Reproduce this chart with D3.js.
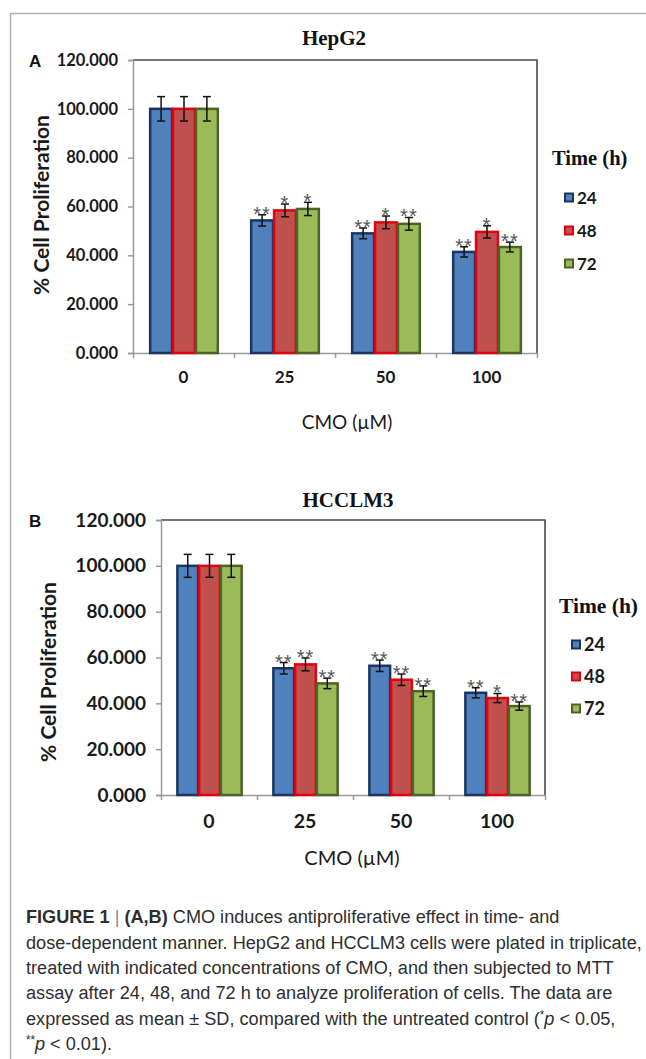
<!DOCTYPE html>
<html>
<head>
<meta charset="utf-8">
<script src="https://cdn.jsdelivr.net/npm/d3@7"></script>
<style>
  body { margin: 0; background: #fff; }
  svg { display: block; }
</style>
</head>
<body>
<div id="chart"></div>
<script>
// categories
var doses = ["0", "25", "50", "100"];
var times = ["24", "48", "72"];
var yTicks = [0, 20, 40, 60, 80, 100, 120];

// HepG2 means / SD per dose, per time (24, 48, 72 h)
var hepMeans = [[100, 100, 100], [54.3, 58.4, 59.0], [49.0, 53.5, 52.9], [41.4, 49.6, 43.4]];
var hepErr   = [[5, 5, 5], [2.3, 2.6, 2.7], [2.2, 2.6, 2.6], [2.1, 2.5, 2.0]];
var hepSig   = [["", "", ""], ["**", "*", "*"], ["**", "*", "**"], ["**", "*", "**"]];

// HCCLM3
var hccMeans = [[100, 100, 100], [55.3, 57.0, 48.7], [56.4, 50.3, 45.3], [44.6, 42.3, 38.8]];
var hccErr   = [[5, 5, 5], [2.5, 2.8, 2.3], [2.5, 2.5, 2.3], [2.2, 2.0, 1.8]];
var hccSig   = [["", "", ""], ["**", "**", "**"], ["**", "**", "**"], ["**", "*", "**"]];

var fills   = ["#4f81bd", "#c0504d", "#9bbb59"];
var strokes = ["#1b3560", "#e3000f", "#4e6228"];

var W = 646, H = 1059;
var svg = d3.select("#chart").append("svg")
    .attr("width", W)
    .attr("height", H);

// outer frame (top + left)
svg.append("line").attr("x1", 10).attr("x2", W).attr("y1", 13.5).attr("y2", 13.5)
    .attr("stroke", "#b0b0b0").attr("stroke-width", 1.5);
svg.append("line").attr("x1", 10.5).attr("x2", 10.5).attr("y1", 13).attr("y2", H)
    .attr("stroke", "#b0b0b0").attr("stroke-width", 1.5);

function drawPanel(p) {
    var x0 = d3.scaleBand()
        .domain(doses)
        .range([p.left, p.right])
        .paddingInner(0.32)
        .paddingOuter(0.16);
    var x1 = d3.scaleBand()
        .domain(times)
        .range([0, x0.bandwidth()]);
    var y = d3.scaleLinear()
        .domain([0, 120])
        .range([p.bottom, p.top]);

    var g = svg.append("g");

    // plot border (top + right)
    g.append("path")
        .attr("d", "M" + p.left + "," + p.top + "H" + p.right + "V" + p.bottom)
        .attr("fill", "none")
        .attr("stroke", "#4a4a4a")
        .attr("stroke-width", 1.6);

    // y axis
    var yAxis = g.append("g")
        .attr("transform", "translate(" + p.left + ",0)")
        .call(d3.axisLeft(y).tickValues(yTicks).tickFormat(d3.format(".3f")).tickSize(5).tickPadding(10));
    yAxis.select(".domain").attr("stroke", "#9a9a9a").attr("stroke-width", 1.5);
    yAxis.selectAll(".tick line").attr("stroke", "#9a9a9a").attr("stroke-width", 1.5);
    yAxis.selectAll(".tick text")
        .attr("fill", "#1a1a1a")
        .style("font-family", "Lato, sans-serif")
        .style("font-weight", "bold")
        .style("font-size", p.tickSize + "px");

    // x axis with ticks at band boundaries
    var xb = d3.scaleLinear().domain([0, doses.length]).range([p.left, p.right]);
    var xAxis = g.append("g")
        .attr("transform", "translate(0," + p.bottom + ")")
        .call(d3.axisBottom(xb).ticks(doses.length).tickFormat("").tickSize(5).tickSizeOuter(0));
    xAxis.select(".domain").attr("stroke", "#9a9a9a").attr("stroke-width", 1.5);
    xAxis.selectAll(".tick line").attr("stroke", "#9a9a9a").attr("stroke-width", 1.5);

    g.selectAll(".xlab")
        .data(doses)
        .enter().append("text")
        .attr("class", "xlab")
        .attr("x", function(d) { return x0(d) + x0.bandwidth() / 2; })
        .attr("y", p.bottom + p.xlabDy)
        .attr("text-anchor", "middle")
        .attr("fill", "#1a1a1a")
        .style("font-family", "Lato, sans-serif")
        .style("font-weight", "bold")
        .style("font-size", p.xTickSize + "px")
        .text(function(d) { return d; });

    // axis titles
    g.append("text")
        .attr("x", (p.left + p.right) / 2 + p.xTitleDx)
        .attr("y", p.xTitleY)
        .attr("text-anchor", "middle")
        .attr("fill", "#1a1a1a")
        .style("font-family", "Lato, sans-serif")
        .style("font-size", p.xTitleSize + "px")
        .text("CMO (\u00b5M)");

    g.append("text")
        .attr("transform", "translate(" + p.yTitleX + "," + p.yTitleY + ") rotate(-90)")
        .attr("text-anchor", "middle")
        .attr("fill", "#1a1a1a")
        .style("font-family", "Lato, sans-serif")
        .style("font-weight", "bold")
        .style("font-size", p.yTitleSize + "px")
        .text("% Cell Proliferation");

    // chart title and panel letter
    g.append("text")
        .attr("x", p.titleX)
        .attr("y", p.titleY)
        .attr("text-anchor", "middle")
        .attr("fill", "#111")
        .style("font-family", "'Liberation Serif', serif")
        .style("font-weight", "bold")
        .style("font-size", "21px")
        .text(p.title);

    g.append("text")
        .attr("x", 29)
        .attr("y", p.letterY)
        .attr("fill", "#111")
        .style("font-family", "'Liberation Sans', Arial, sans-serif")
        .style("font-weight", "bold")
        .style("font-size", "17px")
        .text(p.letter);

    // flatten data into bars
    var bars = [];
    doses.forEach(function(d, i) {
        times.forEach(function(t, j) {
            bars.push({ dose: d, time: t, j: j, v: p.means[i][j], e: p.err[i][j], sig: p.sig[i][j] });
        });
    });

    g.selectAll(".bar")
        .data(bars)
        .enter().append("rect")
        .attr("class", "bar")
        .attr("x", function(d) { return x0(d.dose) + x1(d.time) + 1; })
        .attr("y", function(d) { return y(d.v); })
        .attr("width", x1.bandwidth() - 1)
        .attr("height", function(d) { return p.bottom - y(d.v); })
        .attr("fill", function(d) { return fills[d.j]; })
        .attr("stroke", function(d) { return strokes[d.j]; })
        .attr("stroke-width", 2.5);

    // error bars
    var cx = function(d) { return x0(d.dose) + x1(d.time) + x1.bandwidth() / 2 + 0.5; };
    var eb = g.selectAll(".err")
        .data(bars)
        .enter().append("g")
        .attr("class", "err")
        .attr("stroke", "#111")
        .attr("stroke-width", 1.5);
    eb.append("line")
        .attr("x1", cx).attr("x2", cx)
        .attr("y1", function(d) { return y(d.v + d.e); })
        .attr("y2", function(d) { return y(d.v - d.e); });
    eb.append("line")
        .attr("x1", function(d) { return cx(d) - 4; }).attr("x2", function(d) { return cx(d) + 4; })
        .attr("y1", function(d) { return y(d.v + d.e); }).attr("y2", function(d) { return y(d.v + d.e); });
    eb.append("line")
        .attr("x1", function(d) { return cx(d) - 4; }).attr("x2", function(d) { return cx(d) + 4; })
        .attr("y1", function(d) { return y(d.v - d.e); }).attr("y2", function(d) { return y(d.v - d.e); });

    // significance stars
    g.selectAll(".sig")
        .data(bars.filter(function(d) { return d.sig; }))
        .enter().append("text")
        .attr("class", "sig")
        .attr("x", cx)
        .attr("y", function(d) { return y(d.v + d.e) + 6; })
        .attr("text-anchor", "middle")
        .attr("fill", "#555")
        .style("font-family", "'Liberation Sans', Arial, sans-serif")
        .style("font-size", "20px")
        .style("letter-spacing", "1px")
        .text(function(d) { return d.sig; });

    // legend
    var lg = g.append("g");
    lg.append("text")
        .attr("x", p.legX - 13)
        .attr("y", p.legY)
        .attr("fill", "#111")
        .style("font-family", "'Liberation Serif', serif")
        .style("font-weight", "bold")
        .style("font-size", p.legTitleSize + "px")
        .text("Time (h)");
    var items = lg.selectAll(".li")
        .data(times)
        .enter().append("g")
        .attr("transform", function(d, i) { return "translate(" + p.legX + "," + (p.legY + p.legGap * (i + 1)) + ")"; });
    items.append("rect")
        .attr("x", 0).attr("y", -4.5)
        .attr("width", 8).attr("height", 8)
        .attr("fill", function(d, i) { return fills[i]; })
        .attr("stroke", function(d, i) { return strokes[i]; })
        .attr("stroke-width", 2);
    items.append("text")
        .attr("x", 12)
        .attr("y", 6)
        .attr("fill", "#1a1a1a")
        .style("font-family", "Lato, sans-serif")
        .style("font-weight", "bold")
        .style("font-size", p.legSize + "px")
        .text(function(d) { return d; });
}

drawPanel({
    title: "HepG2", letter: "A", letterY: 67, titleX: 334, titleY: 45,
    left: 133, right: 537, top: 60, bottom: 353,
    means: hepMeans, err: hepErr, sig: hepSig,
    tickSize: 16.5, xTickSize: 17, xlabDy: 30, xTitleY: 429, xTitleDx: 12, xTitleSize: 19,
    yTitleX: 49, yTitleY: 205, yTitleSize: 21,
    legX: 565, legY: 165, legGap: 33, legSize: 17, legTitleSize: 20.5
});

drawPanel({
    title: "HCCLM3", letter: "B", letterY: 527, titleX: 348, titleY: 507,
    left: 161, right: 545, top: 520, bottom: 795,
    means: hccMeans, err: hccErr, sig: hccSig,
    tickSize: 19, xTickSize: 19.5, xlabDy: 33, xTitleY: 865, xTitleDx: -1, xTitleSize: 20,
    yTitleX: 56, yTitleY: 672, yTitleSize: 21,
    legX: 572, legY: 613, legGap: 32, legSize: 18, legTitleSize: 21.5
});

// caption
var capLines = [
    [{ t: "FIGURE 1", b: 1 }, { t: " " }, { t: "|", c: "#888" }, { t: " " }, { t: "(A,B)", b: 1 }, { t: " CMO induces antiproliferative effect in time- and" }],
    [{ t: "dose-dependent manner. HepG2 and HCCLM3 cells were plated in triplicate," }],
    [{ t: "treated with indicated concentrations of CMO, and then subjected to MTT" }],
    [{ t: "assay after 24, 48, and 72 h to analyze proliferation of cells. The data are" }],
    [{ t: "expressed as mean \u00b1 SD, compared with the untreated control (" }, { t: "*", sup: 1 }, { t: "p", i: 1 }, { t: " < 0.05," }],
    [{ t: "**", sup: 1 }, { t: "p", i: 1 }, { t: " < 0.01)." }]
];
var capY = [923, 949, 974, 999, 1025, 1050];

var cap = svg.append("g")
    .attr("transform", "translate(26,0) scale(0.955,1)")
    .style("font-family", "'Liberation Sans', Arial, sans-serif")
    .style("font-size", "19px")
    .attr("fill", "#2e2e2e");
capLines.forEach(function(line, i) {
    var t = cap.append("text").attr("x", 0).attr("y", capY[i]);
    line.forEach(function(s, k) {
        var ts = t.append("tspan").text(s.t);
        if (s.b) ts.style("font-weight", "bold");
        if (s.i) ts.style("font-style", "italic");
        if (s.c) ts.attr("fill", s.c);
        if (s.sup) ts.style("font-size", "12px").attr("dy", -6);
        else if (k > 0 && line[k - 1].sup) ts.attr("dy", 6);
    });
});
</script>
</body>
</html>
